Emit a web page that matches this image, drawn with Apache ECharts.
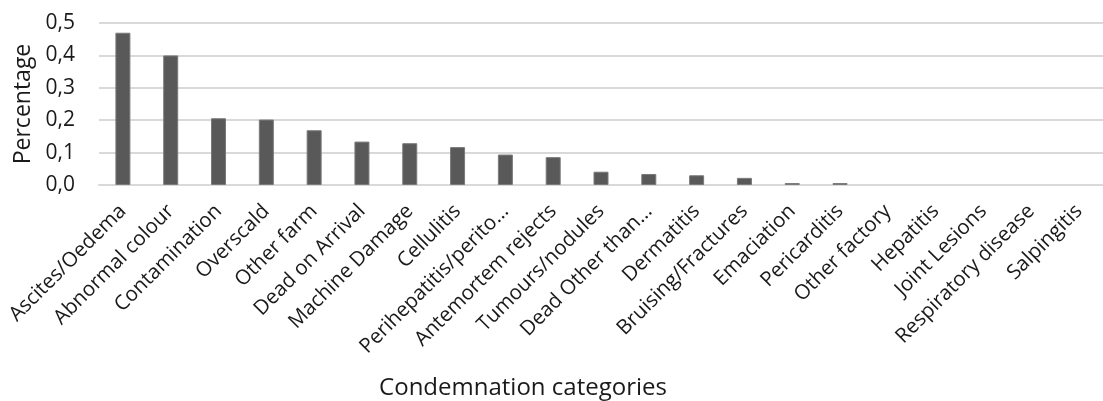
<!DOCTYPE html>
<html>
<head>
<meta charset="utf-8">
<script src="https://cdn.jsdelivr.net/npm/echarts@6/dist/echarts.min.js"></script>
<style>
  html, body { margin: 0; padding: 0; background: #ffffff; }
  #chart { width: 1103px; height: 401px; }
</style>
</head>
<body>
<div id="chart"></div>
<script>
// Condemnation categories, in descending order of percentage
const categories = [
  'Ascites/Oedema', 'Abnormal colour', 'Contamination', 'Overscald', 'Other farm',
  'Dead on Arrival', 'Machine Damage', 'Cellulitis', 'Perihepatitis/perito\u2026',
  'Antemortem rejects', 'Tumours/nodules', 'Dead Other than\u2026', 'Dermatitis',
  'Bruising/Fractures', 'Emaciation', 'Pericarditis', 'Other factory', 'Hepatitis',
  'Joint Lesions', 'Respiratory disease', 'Salpingitis'
];
const percentages = [
  0.470, 0.400, 0.206, 0.202, 0.169, 0.134, 0.129, 0.117, 0.094, 0.086,
  0.041, 0.034, 0.030, 0.022, 0.006, 0.006, 0, 0, 0, 0, 0
];
const yTicks = [0, 0.1, 0.2, 0.3, 0.4, 0.5];
const xTitle = 'Condemnation categories';
const yTitle = 'Percentage';

const font = '"Open Sans", sans-serif';
const textColor = '#1a1a1a';
const chart = echarts.init(document.getElementById('chart'));
chart.setOption({
  animation: false,
  grid: { left: 99, right: -8, top: 23, bottom: 216, containLabel: false },
  graphic: [{
    type: 'text',
    x: 523, y: 388,
    style: {
      text: xTitle, font: '24px ' + font, fill: textColor,
      textAlign: 'center', textVerticalAlign: 'middle'
    }
  }],
  xAxis: {
    type: 'category',
    data: categories,
    axisLine: { show: true, lineStyle: { color: '#d9d9d9', width: 2 } },
    axisTick: { show: false },
    axisLabel: {
      interval: 0, rotate: 45, margin: 23,
      fontFamily: font, fontSize: 20.5, color: textColor
    }
  },
  yAxis: {
    type: 'value',
    min: yTicks[0],
    max: yTicks[yTicks.length - 1],
    interval: 0.1,
    name: yTitle,
    nameLocation: 'middle',
    nameGap: 62,
    nameTextStyle: { fontFamily: font, fontSize: 23, color: textColor },
    axisLine: { show: false },
    axisTick: { show: false },
    axisLabel: {
      margin: 24, fontFamily: font, fontSize: 21, color: textColor,
      formatter: v => v.toFixed(1).replace('.', ',')
    },
    splitLine: { show: true, lineStyle: { color: '#d9d9d9', width: 2 } }
  },
  series: [{
    type: 'bar',
    data: percentages.map(v => ({
      value: v,
      itemStyle: v > 0 ? {} : { borderWidth: 0 }
    })),
    barWidth: 15,
    itemStyle: { color: '#595959', borderColor: '#7a7a7a', borderWidth: 1 }
  }]
});
</script>
</body>
</html>
